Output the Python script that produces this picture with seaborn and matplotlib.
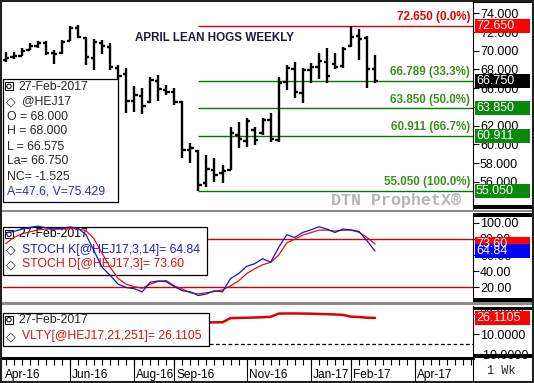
import numpy as np
import matplotlib
matplotlib.use("Agg")
import matplotlib.pyplot as plt
import seaborn as sns
from matplotlib.patches import Rectangle, Circle
from matplotlib.transforms import IdentityTransform

# ---------------- data ----------------
opens  = [69.0, 69.3, 69.4, 70.1, 70.5, 70.8, 69.8, 69.8, 71.0, 72.4, 71.4, 69.2, 70.8, 70.4, 68.2, 67.5,
          64.6, 65.2, 64.5, 66.8, 65.8, 65.6, 64.5, 59.4, 59.3, 55.9, 57.3, 56.9, 57.3, 61.0, 60.4, 61.5,
          61.2, 62.6, 60.5, 66.7, 68.0, 65.5, 67.9, 68.3, 68.8, 68.6, 68.4, 70.5, 71.6, 71.4, 68.0]
highs  = [69.9, 69.9, 70.3, 70.8, 71.0, 71.0, 70.1, 71.1, 72.6, 72.7, 71.5, 71.3, 71.1, 70.8, 68.5, 68.2,
          66.2, 66.0, 67.2, 67.4, 66.3, 66.0, 64.6, 60.1, 59.4, 58.9, 58.5, 57.8, 61.8, 62.4, 62.8, 61.8,
          62.8, 63.3, 67.2, 68.5, 68.8, 68.2, 68.7, 69.8, 70.3, 69.8, 70.4, 72.65, 72.3, 71.6, 69.5]
lows   = [68.8, 69.1, 69.4, 70.1, 70.3, 69.5, 68.6, 69.7, 71.0, 71.4, 68.5, 67.9, 69.7, 67.9, 66.9, 63.4,
          63.5, 63.2, 64.4, 64.6, 65.3, 64.2, 58.5, 58.0, 55.05, 55.4, 56.0, 55.9, 57.3, 59.6, 59.7, 59.9,
          61.0, 60.2, 60.2, 65.8, 64.9, 64.4, 66.5, 67.0, 66.5, 68.0, 68.2, 70.4, 69.0, 66.0, 66.5]
closes = [69.2, 69.4, 70.0, 70.5, 70.8, 69.8, 69.6, 70.9, 72.4, 71.5, 69.3, 70.9, 70.5, 68.3, 67.3, 64.6,
          65.3, 64.1, 66.9, 65.9, 65.6, 64.5, 59.4, 59.6, 55.7, 57.4, 56.7, 57.2, 61.2, 60.6, 62.5, 60.5,
          62.6, 60.6, 66.6, 68.2, 65.6, 67.9, 68.3, 68.9, 67.3, 68.3, 70.2, 71.5, 71.3, 68.0, 66.75]
stoch_k = [87.5, 89, 92, 94, 95.6, 93.5, 92, 93, 94.5, 93, 85, 65, 45, 35, 24, 20, 18.5, 14.6, 26.5, 28,
           27, 21, 16, 14.6, 10, 12, 15.9, 14.6, 31, 37, 46, 49.3, 55.4, 51.2, 69.5, 85, 81.7, 87.8, 91,
           94.8, 92, 87.8, 92, 91, 89, 77.7, 64.84]
stoch_d = [74, 81.7, 86, 88.5, 91, 92, 92, 92, 92.5, 92, 90, 80, 62, 45, 31, 24, 21, 19, 24, 27.5, 28.5,
           22, 18, 13.5, 12, 13.5, 15, 17, 22, 28, 37, 43, 48, 51, 60, 75, 79.5, 84.5, 87.5, 90.7, 90.7,
           89.5, 90.5, 90.7, 88, 81.7, 73.6]
vlty = [np.nan] * 25 + [21.7, 21.7, 21.8, 25.9, 26.1, 26.3, 26.5, 26.8, 27.2, 30.4, 30.5, 30.5, 30.4,
                        30.3, 30.0, 29.8, 29.5, 29.1, 27.3, 27.0, 26.3, 26.1105]

fib_levels = [72.650, 66.789, 63.850, 60.911, 55.050]
fib_pcts = ["0.0%", "33.3%", "50.0%", "66.7%", "100.0%"]
fib_start_week = 24
last_price = 66.750
last_k, last_d, last_vol = 64.84, 73.60, 26.1105

price_ticks = [56, 58, 60, 62, 64, 66, 68, 70, 72, 74]
stoch_ticks = [20, 40, 60, 80, 100]
vol_ticks = [-10, 10, 30]
month_labels = ["Apr-16", "Jun-16", "Aug-16", "Sep-16", "Nov-16", "Jan-17", "Feb-17", "Apr-17"]
month_weeks = [-0.34, 8, 16, 21, 30, 38, 43, 51]

title = "APRIL LEAN HOGS WEEKLY"
info_date = "27-Feb-2017"
price_info = ["O = 68.000", "H = 68.000", "L = 66.575", "La= 66.750", "NC= -1.525"]
price_extra = "A=47.6, V=75.429"

# ---------------- style ----------------
sns.set_style("white")
plt.rcParams['font.family'] = ['Liberation Sans', 'DejaVu Sans']

W, H = 534, 383
fig = plt.figure(figsize=(W / 100, H / 100), dpi=100, facecolor='white')
ID = IdentityTransform()
RED, GREEN, BLUE = '#ff0000', '#0a8a0a', '#0000ff'
XL = (-0.34, 58.2)


def add_ax(x0, y0, x1, y1):
    ax = fig.add_axes([x0 / W, 1 - y1 / H, (x1 - x0) / W, (y1 - y0) / H])
    ax.set_facecolor('white')
    for s in ax.spines.values():
        s.set_visible(False)
    ax.spines['right'].set_visible(True)
    ax.spines['right'].set_color('black')
    ax.spines['right'].set_linewidth(0.8)
    ax.set_xlim(*XL)
    ax.set_xticks([])
    ax.yaxis.tick_right()
    ax.tick_params(axis='y', direction='out', length=4, width=0.8, labelsize=9, pad=1, colors='black')
    return ax


def frect(x0, y0, x1, y1, **kw):
    r = Rectangle((x0, H - y1), x1 - x0, y1 - y0, transform=ID, **kw)
    fig.add_artist(r)
    return r


def ftext(x, y, s, **kw):
    kw.setdefault('va', 'center')
    kw.setdefault('fontsize', 8.8)
    return fig.text(x, H - y, s, transform=ID, **kw)


def badge(ax, val, txt, color):
    yc = ax.transData.transform((0, val))[1]
    fig.add_artist(Rectangle((474.5, yc - 7), 55, 14, transform=ID, color=color, lw=0, zorder=6))
    fig.text(476, yc, txt, transform=ID, color='white', fontsize=9, va='center', zorder=7)


def info_box(x0, y0, x1, y1, zorder=5, ax=None):
    if ax is None:
        frect(x0, y0, x1, y1, fc='white', ec='black', lw=0.9, zorder=zorder)
        frect(5, y0 + 3, 13, y0 + 11, fc='white', ec='black', lw=0.7, zorder=zorder + 1)
        fig.add_artist(Circle((9, H - (y0 + 7)), 2.2, transform=ID, fill=False, lw=0.7, ec='black',
                              zorder=zorder + 1))
    else:
        ax.add_patch(Rectangle((x0, H - y1), x1 - x0, y1 - y0, transform=ID, fc='white', ec='black',
                               lw=0.9, zorder=zorder, clip_on=False))
        ax.add_patch(Rectangle((5, H - (y0 + 11)), 8, 8, transform=ID, fc='white', ec='black',
                               lw=0.7, zorder=zorder + 0.1, clip_on=False))
        ax.add_patch(Circle((9, H - (y0 + 7)), 2.2, transform=ID, fill=False, lw=0.7, ec='black',
                            zorder=zorder + 0.1, clip_on=False))


def diamond(x, y, ax=None, z=8):
    kw = dict(transform=ID, ha='center', va='center', fontsize=9, fontweight='bold',
              family=['DejaVu Sans'], zorder=z)
    if ax is None:
        fig.text(x, H - y, "\u25c7", **kw)
    else:
        ax.text(x, H - y, "\u25c7", clip_on=False, **kw)


weeks = np.arange(len(highs))

# ---------------- price panel ----------------
ax1 = add_ax(3, 3, 473, 209)
ax1.set_ylim(53.09, 75.1)
ax1.set_yticks(price_ticks)
ax1.set_yticklabels([f"{v:.3f}" for v in price_ticks])
ax1.vlines(weeks, lows, highs, color='black', lw=1.7, zorder=4)
ax1.hlines(opens, weeks - 0.42, weeks, color='black', lw=1.7, zorder=4)
ax1.hlines(closes, weeks, weeks + 0.42, color='black', lw=1.7, zorder=4)

for lvl, pct in zip(fib_levels, fib_pcts):
    col_line = '#d40000' if pct == "0.0%" else '#007a00'
    col_txt = '#e00000' if pct == "0.0%" else '#3d8f1c'
    ax1.hlines(lvl, fib_start_week, XL[1], color=col_line, lw=1.0, zorder=3)
    ax1.annotate(f"{lvl:.3f} ({pct})", xy=(XL[1], lvl), xytext=(-3, 2.5), textcoords='offset pixels',
                 ha='right', va='bottom', color=col_txt, fontsize=8.4, fontweight='bold', zorder=5)

ftext(135, 38, title, fontsize=8.4, fontweight='bold', color='#1c1c3a')
ftext(396, 200, "DTN ProphetX\u00ae", ha='center', fontsize=12, color='#b4b4b4',
      family=['Liberation Mono', 'DejaVu Sans Mono'], fontweight='bold', zorder=2)

badge(ax1, fib_levels[0], f"{fib_levels[0]:.3f}", RED)
badge(ax1, last_price, f"{last_price:.3f}", 'black')
for lvl in fib_levels[2:]:
    badge(ax1, lvl, f"{lvl:.3f}", GREEN)

info_box(3, 79.3, 118, 201.7)
ftext(18, 87, info_date, zorder=8)
diamond(11, 101.5)
ftext(22, 101.5, "@HEJ17", zorder=8)
for j, s in enumerate(price_info):
    ftext(7, 116.5 + 15 * j, s, zorder=8)
ftext(7, 191.5, price_extra, color='#2b2bd0', zorder=8)

# ---------------- stochastics panel ----------------
ax2 = add_ax(3, 213, 473, 301)
ax2.set_ylim(3.3, 111.8)
ax2.set_yticks(stoch_ticks)
ax2.set_yticklabels([f"{v:.2f}" for v in stoch_ticks])
ax2.axhline(80, color='#d40000', lw=1.0, zorder=2)
ax2.axhline(20, color='#d40000', lw=1.0, zorder=2)
info_box(3, 227.3, 206.5, 274.5, zorder=3, ax=ax2)
sns.lineplot(x=weeks, y=stoch_d, ax=ax2, color='#e01010', lw=0.9, zorder=6)
sns.lineplot(x=weeks, y=stoch_k, ax=ax2, color='#1515c8', lw=0.9, zorder=6)
ax2.set_xlim(*XL)
ax2.set_ylim(3.3, 111.8)
ax2.set_xlabel("")
ax2.set_ylabel("")
ax2.set_xticks([])
for s_, y_, c_ in [(info_date, 234.3, 'black'),
                   (f"STOCH K[@HEJ17,3,14]= {last_k:.2f}", 250, '#1d1dc8'),
                   (f"STOCH D[@HEJ17,3]= {last_d:.2f}", 264.5, '#d81010')]:
    x_ = 18 if s_ == info_date else 22
    ax2.text(x_, H - y_, s_, transform=ID, va='center', fontsize=8.8, color=c_, zorder=4, clip_on=False)
diamond(11, 250, ax=ax2, z=4)
diamond(11, 264.5, ax=ax2, z=4)
badge(ax2, last_d, f"{last_d:.2f}", RED)
badge(ax2, last_k, f"{last_k:.2f}", BLUE)

# ---------------- volatility panel ----------------
ax3 = add_ax(3, 306, 473, 357)
ax3.set_ylim(-12.6, 37.9)
ax3.set_yticks(vol_ticks)
ax3.set_yticklabels([f"{v:.4f}" for v in vol_ticks])
ax3.axhline(0, color='black', lw=0.9, ls=(0, (3, 2)), zorder=2)
sns.lineplot(x=weeks, y=vlty, ax=ax3, color='#dd0000', lw=1.8, zorder=3)
ax3.set_xlim(*XL)
ax3.set_ylim(-12.6, 37.9)
ax3.set_xlabel("")
ax3.set_ylabel("")
ax3.set_xticks([])
badge(ax3, last_vol, f"{last_vol:.4f}", RED)
info_box(3, 312.7, 209, 345.5)
ftext(18, 320, info_date, zorder=8)
diamond(11, 336.5)
ftext(22, 336.5, f"VLTY[@HEJ17,21,251]= {last_vol:.4f}", color='#d81010', zorder=8)

# ---------------- date strip ----------------
ax4 = add_ax(3, 358, 473, 381)
ax4.set_ylim(0, 1)
ax4.set_yticks([])
ax4.spines['top'].set_visible(True)
ax4.spines['top'].set_linewidth(2.2)
ax4.spines['top'].set_color('black')
ax4.vlines(np.arange(0, 59), 0.7, 1, color='black', lw=0.8)
ax4.vlines(month_weeks[1:], 0, 1, color='black', lw=0.8)
for lab, w in zip(month_labels, month_weeks):
    ax4.annotate(lab, xy=(w, 0.25), xytext=(2, 0), textcoords='offset pixels', ha='left', va='center',
                 fontsize=8.6, color='black')
ftext(501, 371, "1 Wk", ha='center', fontsize=8.6, family=['Liberation Mono', 'DejaVu Sans Mono'])

# ---------------- frame / separators ----------------
for yy in (211, 303.5):
    frect(2, yy - 1.2, 533, yy + 1.2, color='#8c8c8c', lw=0, zorder=9)
for (a, b) in [(0, 3.3), (205, 208.5), (213, 217), (298, 302), (306.5, 310), (353.5, 357.5)]:
    frect(473, a, 533, b, color='black', lw=0, zorder=9)
frect(1, 1, 533, 382, fill=False, ec='#202020', lw=1.5, zorder=10)
frect(473, 357.5, 473.8, 382, color='black', lw=0, zorder=10)

fig.savefig("out.png", dpi=100, facecolor='white')
